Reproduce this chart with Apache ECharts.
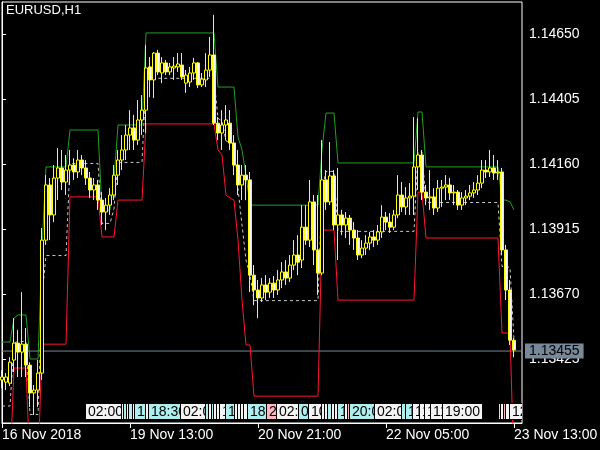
<!DOCTYPE html>
<html><head><meta charset="utf-8">
<script src="https://cdn.jsdelivr.net/npm/echarts@6/dist/echarts.min.js"></script>
<style>html,body{margin:0;padding:0;background:#000}#c{width:600px;height:450px}</style>
</head><body><div id="c"></div>
<script>
// ---- data (EURUSD H1, bar 0 = 16 Nov 2018 05:00) ----
const opens = [1.13346,1.13338,1.13334,1.13421,1.13485,1.13451,1.13481,1.13402,1.13297,1.13308,
1.13372,1.13873,1.14081,1.13968,1.14107,1.14145,1.14092,1.14137,1.14156,1.14130,
1.14175,1.14145,1.14107,1.14062,1.14081,1.14024,1.13979,1.14005,1.14043,1.14118,
1.14175,1.14213,1.14269,1.14296,1.14250,1.14326,1.14363,1.14526,1.14477,1.14578,
1.14503,1.14541,1.14507,1.14522,1.14526,1.14533,1.14465,1.14469,1.14503,1.14541,
1.14458,1.14477,1.14514,1.14571,1.14314,1.14277,1.14307,1.14314,1.14239,1.14156,
1.14081,1.14118,1.14100,1.13741,1.13685,1.13655,1.13704,1.13677,1.13711,1.13685,
1.13723,1.13753,1.13730,1.13779,1.13817,1.13798,1.13922,1.13873,1.14017,1.13836,
1.13749,1.14100,1.14017,1.14115,1.13930,1.13968,1.13930,1.13956,1.13911,1.13881,
1.13817,1.13843,1.13862,1.13885,1.13873,1.13904,1.13960,1.13941,1.13922,1.13968,
1.14043,1.13998,1.14032,1.14039,1.14149,1.14194,1.14054,1.14032,1.14036,1.13994,
1.14069,1.14073,1.14081,1.14051,1.14054,1.14005,1.14032,1.14039,1.14051,1.14062,
1.14088,1.14137,1.14130,1.14145,1.14126,1.14130,1.13836,1.13685,1.13496];
const closes = [1.13357,1.13357,1.13413,1.13485,1.13451,1.13481,1.13402,1.13297,1.13308,1.13372,
1.13873,1.14081,1.13968,1.14107,1.14145,1.14092,1.14137,1.14156,1.14130,1.14175,
1.14145,1.14107,1.14062,1.14081,1.14024,1.13979,1.14005,1.14043,1.14118,1.14175,
1.14213,1.14269,1.14296,1.14250,1.14326,1.14363,1.14522,1.14477,1.14578,1.14507,
1.14541,1.14507,1.14526,1.14529,1.14537,1.14488,1.14495,1.14503,1.14541,1.14458,
1.14480,1.14514,1.14571,1.14314,1.14277,1.14307,1.14326,1.14239,1.14156,1.14081,
1.14118,1.14100,1.13741,1.13685,1.13655,1.13704,1.13677,1.13711,1.13685,1.13723,
1.13753,1.13730,1.13779,1.13817,1.13790,1.13922,1.13873,1.14017,1.13836,1.13749,
1.14100,1.14017,1.14115,1.13930,1.13968,1.13930,1.13956,1.13911,1.13881,1.13817,
1.13843,1.13862,1.13885,1.13873,1.13904,1.13960,1.13941,1.13922,1.13968,1.14043,
1.13998,1.14032,1.14039,1.14149,1.14194,1.14054,1.14032,1.14036,1.13994,1.14069,
1.14073,1.14081,1.14051,1.14054,1.14005,1.14032,1.14039,1.14051,1.14062,1.14088,
1.14137,1.14130,1.14145,1.14126,1.14130,1.13836,1.13685,1.13496,1.13459];
const lows = [1.13315,1.13308,1.13323,1.13376,1.13357,1.13357,1.13357,1.13244,1.13214,1.13244,
1.13346,1.13855,1.13873,1.13941,1.14024,1.14062,1.14043,1.14081,1.14100,1.14107,
1.14118,1.14081,1.14032,1.14024,1.13987,1.13930,1.13911,1.13968,1.14024,1.14081,
1.14137,1.14175,1.14213,1.14213,1.14232,1.14269,1.14277,1.14412,1.14409,1.14495,
1.14465,1.14495,1.14495,1.14477,1.14507,1.14477,1.14428,1.14450,1.14477,1.14446,
1.14450,1.14450,1.14488,1.14307,1.14250,1.14213,1.14250,1.14213,1.14118,1.14043,
1.14024,1.14024,1.13677,1.13628,1.13579,1.13640,1.13647,1.13655,1.13655,1.13666,
1.13692,1.13704,1.13715,1.13760,1.13741,1.13768,1.13855,1.13847,1.13779,1.13666,
1.13741,1.13987,1.14005,1.13911,1.13798,1.13892,1.13881,1.13855,1.13836,1.13798,
1.13805,1.13817,1.13836,1.13847,1.13855,1.13881,1.13911,1.13900,1.13911,1.13956,
1.13979,1.13968,1.13968,1.13968,1.14062,1.14024,1.14005,1.13987,1.13968,1.13979,
1.13998,1.14024,1.14024,1.14005,1.13987,1.13987,1.14005,1.14024,1.14032,1.14043,
1.14069,1.14107,1.14111,1.14100,1.14100,1.13817,1.13647,1.13478,1.13432];
const highs = [1.13383,1.13372,1.13432,1.13579,1.13534,1.13677,1.13542,1.13413,1.13327,1.13421,
1.13919,1.14118,1.14107,1.14156,1.14220,1.14213,1.14194,1.14213,1.14182,1.14213,
1.14194,1.14175,1.14130,1.14107,1.14100,1.14054,1.14032,1.14069,1.14156,1.14213,
1.14269,1.14307,1.14363,1.14345,1.14401,1.14420,1.14609,1.14563,1.14582,1.14590,
1.14563,1.14552,1.14541,1.14563,1.14578,1.14578,1.14514,1.14526,1.14560,1.14544,
1.14503,1.14578,1.14639,1.14722,1.14337,1.14363,1.14382,1.14363,1.14269,1.14213,
1.14156,1.14156,1.14130,1.13779,1.13723,1.13730,1.13741,1.13730,1.13738,1.13760,
1.13790,1.13798,1.13817,1.13873,1.13892,1.14005,1.14005,1.14100,1.14043,1.14043,
1.14250,1.14137,1.14243,1.14137,1.14145,1.13987,1.13979,1.13968,1.13941,1.13911,
1.13873,1.13892,1.13904,1.13911,1.13930,1.14005,1.13979,1.13975,1.13987,1.14118,
1.14092,1.14073,1.14088,1.14337,1.14333,1.14213,1.14081,1.14137,1.14069,1.14100,
1.14100,1.14118,1.14107,1.14081,1.14062,1.14054,1.14062,1.14081,1.14092,1.14118,
1.14175,1.14175,1.14213,1.14194,1.14175,1.14145,1.13855,1.13723,1.13504];
const upperLine = [1.13489,1.13489,1.13489,1.13579,1.13591,1.13591,1.13591,1.13425,1.13425,1.13425,
1.13836,1.14149,1.14149,1.14149,1.14149,1.14149,1.14149,1.14288,1.14288,1.14288,
1.14288,1.14288,1.14288,1.14288,1.14288,1.13987,1.13987,1.13987,1.14100,1.14307,
1.14307,1.14307,1.14307,1.14307,1.14307,1.14307,1.14654,1.14654,1.14654,1.14654,
1.14654,1.14654,1.14654,1.14654,1.14654,1.14654,1.14654,1.14654,1.14654,1.14654,
1.14654,1.14654,1.14654,1.14654,1.14450,1.14450,1.14450,1.14450,1.14450,1.14262,
1.14213,1.14118,1.14005,1.14005,1.14005,1.14005,1.14005,1.14005,1.14005,1.14005,
1.14005,1.14005,1.14005,1.14005,1.14005,1.14005,1.14005,1.14005,1.14005,1.14005,
1.14213,1.14352,1.14352,1.14352,1.14164,1.14164,1.14164,1.14164,1.14164,1.14164,
1.14164,1.14164,1.14164,1.14164,1.14164,1.14164,1.14164,1.14164,1.14164,1.14164,
1.14164,1.14164,1.14164,1.14164,1.14356,1.14356,1.14149,1.14149,1.14149,1.14149,
1.14149,1.14149,1.14149,1.14149,1.14149,1.14149,1.14149,1.14149,1.14149,1.14149,
1.14149,1.14149,1.14149,1.14149,1.14149,1.14024,1.14024,1.14017,1.13987];
const lowerLine = [1.13006,1.13006,1.13006,1.13391,1.13391,1.13391,1.13391,1.13006,1.13006,1.13006,
1.13481,1.13481,1.13481,1.13481,1.13481,1.13481,1.13481,1.14036,1.14036,1.14036,
1.14036,1.14036,1.14036,1.14036,1.14036,1.13885,1.13885,1.13885,1.13885,1.14024,
1.14024,1.14024,1.14024,1.14024,1.14024,1.14024,1.14311,1.14311,1.14311,1.14311,
1.14311,1.14311,1.14311,1.14311,1.14311,1.14311,1.14311,1.14311,1.14311,1.14311,
1.14311,1.14311,1.14311,1.14311,1.14213,1.14194,1.14043,1.14032,1.14024,1.13874,
1.13647,1.13478,1.13478,1.13285,1.13285,1.13285,1.13285,1.13285,1.13285,1.13285,
1.13285,1.13285,1.13285,1.13285,1.13285,1.13285,1.13285,1.13285,1.13285,1.13285,
1.13911,1.13911,1.13911,1.13911,1.13647,1.13647,1.13647,1.13647,1.13647,1.13647,
1.13647,1.13647,1.13647,1.13647,1.13647,1.13647,1.13647,1.13647,1.13647,1.13647,
1.13647,1.13647,1.13647,1.13647,1.14054,1.14054,1.13881,1.13881,1.13881,1.13881,
1.13881,1.13881,1.13881,1.13881,1.13881,1.13881,1.13881,1.13881,1.13881,1.13881,
1.13881,1.13881,1.13881,1.13881,1.13881,1.13523,1.13523,1.13523,1.13006];
const middleLine = [1.13248,1.13248,1.13248,1.13485,1.13491,1.13491,1.13491,1.13216,1.13216,1.13216,
1.13659,1.13815,1.13815,1.13815,1.13815,1.13815,1.13815,1.14162,1.14162,1.14162,
1.14162,1.14162,1.14162,1.14162,1.14162,1.13936,1.13936,1.13936,1.13993,1.14166,
1.14166,1.14166,1.14166,1.14166,1.14166,1.14166,1.14483,1.14483,1.14483,1.14483,
1.14483,1.14483,1.14483,1.14483,1.14483,1.14483,1.14483,1.14483,1.14483,1.14483,
1.14483,1.14483,1.14483,1.14483,1.14332,1.14322,1.14247,1.14241,1.14237,1.14068,
1.13930,1.13798,1.13742,1.13645,1.13645,1.13645,1.13645,1.13645,1.13645,1.13645,
1.13645,1.13645,1.13645,1.13645,1.13645,1.13645,1.13645,1.13645,1.13645,1.13645,
1.14062,1.14132,1.14132,1.14132,1.13906,1.13906,1.13906,1.13906,1.13906,1.13906,
1.13906,1.13906,1.13906,1.13906,1.13906,1.13906,1.13906,1.13906,1.13906,1.13906,
1.13906,1.13906,1.13906,1.13906,1.14205,1.14205,1.14015,1.14015,1.14015,1.14015,
1.14015,1.14015,1.14015,1.14015,1.14015,1.14015,1.14015,1.14015,1.14015,1.14015,
1.14015,1.14015,1.14015,1.14015,1.14015,1.13774,1.13774,1.13770,1.13497];
const bidPrice = 1.13455;
const bidLabel = '1.13455';
const symbolTitle = 'EURUSD,H1';
const yTickValues = [1.13425, 1.13670, 1.13915, 1.14160, 1.14405, 1.14650];
const yTickLabels = ['1.13425', '1.13670', '1.13915', '1.14160', '1.14405', '1.14650'];
const xTickBars = [0, 32, 64, 96, 128];
const xTickLabels = ['16 Nov 2018', '19 Nov 13:00', '20 Nov 21:00', '22 Nov 05:00', '23 Nov 13:00'];
const sessionBars = [21,30,30.5,31.25,31.75,32.75,33.25,36,36.75,44.75,51,51.75,52.5,53,53.75,54.5,56,58.25,59,59.75,60.5,61.5,66.25,68.75,74.25,76.75,80,80.75,81.5,82.5,83.25,84,85.75,86.5,87,93.25,100,101,102.75,104.5,105.75,107.25,110.25,124.25,124.75,125.5,126,127];
const sessionTexts = ['02:00','11:00','11:00','11:00','11:00','11:00','11:00','18:30','18:30','02:00','11:00','11:00','11:00','11:00','11:00','11:00','11:00','11:00','11:00','11:00','11:00','18:30','21:00','02:00','09:00','10:00','11:00','11:00','11:00','11:00','11:00','11:00','11:00','21:00','20:00','02:00','10:00','11:00','11:00','11:00','11:00','11:00','19:00','11:00','11:00','11:00','11:00','12:00'];
const sessionKinds = ['w','w','c','w','c','w','c','w','c','w','c','w','c','w','w','w','c','w','w','w','w','c','p','w','c','w','w','w','c','w','w','c','w','p','c','w','c','c','w','w','w','w','w','c','w','p','w','w'];

// ---- chart ----
const X_MIN = 0, X_MAX = 130;
const kindColors = { w: '#f4f4f4', c: '#afeeee', p: '#ffb6c1' };
const FONT = '"Liberation Sans", Arial, sans-serif';
const chart = echarts.init(document.getElementById('c'), null, { renderer: 'canvas' });
const candleData = opens.map((o, i) => [i, o, closes[i], lows[i], highs[i]]);
const lineData = arr => arr.map((v, i) => [i, v]);

chart.setOption({
  animation: false,
  backgroundColor: '#000',
  title: { text: symbolTitle, left: 6, top: 4, padding: 0,
    textStyle: { color: '#fff', fontSize: 13, fontWeight: 'normal', fontFamily: FONT } },
  grid: { left: 2, right: 78, top: 2, bottom: 27, show: true, borderColor: '#fff', borderWidth: 1,
    backgroundColor: '#000', containLabel: false, outerBoundsMode: 'none' },
  xAxis: {
    type: 'value', min: X_MIN, max: X_MAX,
    axisLine: { show: true, lineStyle: { color: '#fff' } },
    axisTick: { show: true, length: 5, lineStyle: { color: '#fff' }, customValues: xTickBars },
    axisLabel: { color: '#fff', fontFamily: FONT, fontSize: 14, align: 'left', margin: 5,
      customValues: xTickBars, showMinLabel: true, showMaxLabel: true,
      formatter: v => xTickLabels[xTickBars.indexOf(v)] || '' },
    splitLine: { show: false }
  },
  yAxis: {
    type: 'value', position: 'right', min: 1.131838, max: 1.147706, scale: true,
    axisLine: { show: true, lineStyle: { color: '#fff' } },
    axisTick: { show: true, length: 4, lineStyle: { color: '#fff' }, customValues: yTickValues },
    axisLabel: { color: '#fff', fontFamily: FONT, fontSize: 14, margin: 7,
      customValues: yTickValues, showMinLabel: true, showMaxLabel: true,
      formatter: v => { const k = yTickValues.findIndex(t => Math.abs(t - v) < 1e-7); return k >= 0 ? yTickLabels[k] : ''; } },
    splitLine: { show: false }
  },
  series: [
    { type: 'line', data: [[X_MIN, bidPrice], [X_MAX, bidPrice]], symbol: 'none', z: 1, silent: true,
      lineStyle: { color: '#778899', width: 1 },
      endLabel: { show: true, formatter: bidLabel, distance: 3, color: '#000',
        backgroundColor: '#778899', padding: [1, 4, 0, 4], fontFamily: FONT, fontSize: 14 } },
    { type: 'line', data: lineData(upperLine), symbol: 'none', z: 2,
      lineStyle: { color: '#239f23', width: 1 } },
    { type: 'line', data: lineData(lowerLine), symbol: 'none', z: 2,
      lineStyle: { color: '#ff1630', width: 1 } },
    { type: 'line', data: lineData(middleLine), symbol: 'none', z: 2,
      lineStyle: { color: '#c8c8c8', width: 1, type: [3, 3] } },
    { type: 'candlestick', data: candleData, encode: { x: 0, y: [1, 2, 3, 4] }, barWidth: 3, z: 3,
      itemStyle: { color: '#000', color0: '#fff', borderColor: '#ffff00', borderColor0: '#ffff00', borderWidth: 1 } },
    { type: 'custom', clip: true, z: 5,
      data: sessionBars.map(b => [b, 0]),
      encode: { x: 0, y: 1 },
      renderItem: (params, api) => {
        const i = params.dataIndex;
        const cs = params.coordSys;
        const p = api.coord([api.value(0), yTickValues[0]]);
        return { type: 'text', x: p[0], y: cs.y + cs.height - 4,
          style: { text: sessionTexts[i], fill: '#000', font: '14px ' + FONT,
            backgroundColor: kindColors[sessionKinds[i]], borderColor: '#000', borderWidth: 1,
            padding: [1, 2, 0, 2], align: 'left', verticalAlign: 'bottom' } };
      } }
  ]
});
</script></body></html>
